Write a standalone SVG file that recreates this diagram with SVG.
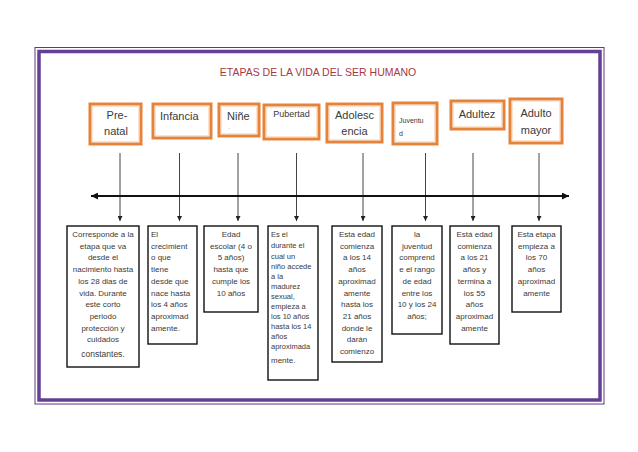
<svg xmlns="http://www.w3.org/2000/svg" width="638" height="452" viewBox="0 0 638 452">
<defs>
<style>
.t{font-family:"Liberation Sans",Arial,sans-serif;fill:#3a3a3a}
.top{font-size:11px;fill:#3a3a3a}
.bt{font-size:8px}
.bt4{font-size:7.5px}
.c{text-anchor:middle}
.ob{fill:#fff;stroke:#e5833a;stroke-width:3}
.obi{fill:none;stroke:#fbe3cf;stroke-width:1}
.bb{fill:#fff;stroke:#111;stroke-width:1.4}
.cn{stroke:#444;stroke-width:1;fill:none}
</style>
<marker id="ah" viewBox="0 0 6 6" refX="6" refY="3" markerWidth="5" markerHeight="5" orient="auto" markerUnits="userSpaceOnUse">
<path d="M0,0 L6,3 L0,6 z" fill="#222"/>
</marker>
<marker id="ah2" viewBox="0 0 8 8" refX="8" refY="4" markerWidth="7" markerHeight="7" orient="auto-start-reverse" markerUnits="userSpaceOnUse">
<path d="M0,0 L8,4 L0,8 z" fill="#111"/>
</marker>
</defs>
<rect width="638" height="452" fill="#fff"/>
<g id="frame">
<rect x="35" y="47.5" width="569" height="356.5" fill="none" stroke="#5a3c82" stroke-width="1"/>
<rect x="39" y="51.5" width="561" height="348.5" fill="none" stroke="#653f95" stroke-width="3.5"/>
</g>
<text id="title" class="t" x="318" y="76" text-anchor="middle" font-size="10.5" style="fill:#a8383f">ETAPAS DE LA VIDA DEL SER HUMANO</text>

<g id="connectors">
<line class="cn" x1="120" y1="153" x2="120" y2="221" marker-end="url(#ah)"/>
<line class="cn" x1="179.5" y1="153" x2="179.5" y2="221" marker-end="url(#ah)"/>
<line class="cn" x1="238" y1="153" x2="238" y2="221" marker-end="url(#ah)"/>
<line class="cn" x1="296.5" y1="153" x2="296.5" y2="221" marker-end="url(#ah)"/>
<line class="cn" x1="363" y1="153" x2="363" y2="221" marker-end="url(#ah)"/>
<line class="cn" x1="425.5" y1="153" x2="425.5" y2="221" marker-end="url(#ah)"/>
<line class="cn" x1="473" y1="153" x2="473" y2="221" marker-end="url(#ah)"/>
<line class="cn" x1="539" y1="153" x2="539" y2="221" marker-end="url(#ah)"/>
<line x1="91" y1="196" x2="569" y2="196" stroke="#111" stroke-width="2" marker-start="url(#ah2)" marker-end="url(#ah2)"/>
</g>

<g id="n-prenatal"><rect class="ob" x="90" y="104" width="51" height="40"/><rect class="obi" x="92.5" y="106.5" width="46" height="35"/>
<text class="t top c" x="117" y="119">Pre-</text><text class="t top c" x="116" y="135">natal</text></g>
<g id="n-infancia"><rect class="ob" x="153" y="104" width="58" height="34"/><rect class="obi" x="155.5" y="106.5" width="53" height="29"/>
<text class="t top" x="160" y="120">Infancia</text></g>
<g id="n-nine"><rect class="ob" x="219" y="104" width="40" height="32"/><rect class="obi" x="221.5" y="106.5" width="35" height="27"/>
<text class="t top" x="227" y="120">Niñe</text><text class="t" x="228.5" y="130" font-size="5" style="fill:#aaa">-</text></g>
<g id="n-pubertad"><rect class="ob" x="264" y="105" width="55" height="34"/><rect class="obi" x="266.5" y="107.5" width="50" height="29"/>
<text class="t c" x="291.5" y="117" font-size="9">Pubertad</text></g>
<g id="n-adolescencia"><rect class="ob" x="327" y="104" width="55" height="38"/><rect class="obi" x="329.5" y="106.5" width="50" height="33"/>
<text class="t top c" x="354.5" y="119">Adolesc</text><text class="t top c" x="354.5" y="135">encia</text></g>
<g id="n-juventud"><rect class="ob" x="393" y="103" width="44" height="41"/><rect class="obi" x="395.5" y="105.5" width="39" height="36"/>
<text class="t" x="399" y="123" font-size="7">Juventu</text><text class="t" x="399" y="136" font-size="7">d</text></g>
<g id="n-adultez"><rect class="ob" x="451" y="101" width="53" height="28"/><rect class="obi" x="453.5" y="103.5" width="48" height="23"/>
<text class="t top c" x="477" y="118">Adultez</text></g>
<g id="n-adultomayor"><rect class="ob" x="510" y="99" width="52" height="44"/><rect class="obi" x="512.5" y="101.5" width="47" height="39"/>
<text class="t top c" x="536" y="117">Adulto</text><text class="t top c" x="536" y="134">mayor</text></g>

<g id="d-prenatal"><rect class="bb" x="67" y="226" width="72" height="141"/>
<text class="t bt c"><tspan x="103" y="237">Corresponde a la</tspan><tspan x="103" y="248.7">etapa que va</tspan><tspan x="103" y="260.4">desde el</tspan><tspan x="103" y="272.1">nacimiento hasta</tspan><tspan x="103" y="283.8">los 28 dias de</tspan><tspan x="103" y="295.5">vida. Durante</tspan><tspan x="103" y="307.2">este corto</tspan><tspan x="103" y="318.9">periodo</tspan><tspan x="103" y="330.6">protección y</tspan><tspan x="103" y="342.3">cuidados</tspan><tspan x="103" y="357" font-size="8.5">constantes.</tspan></text></g>
<g id="d-infancia"><rect class="bb" x="148" y="226" width="49" height="118"/>
<text class="t bt"><tspan x="151" y="237">El</tspan><tspan x="151" y="248.7">crecimient</tspan><tspan x="151" y="260.4">o que</tspan><tspan x="151" y="272.1">tiene</tspan><tspan x="151" y="283.8">desde que</tspan><tspan x="151" y="295.5">nace hasta</tspan><tspan x="151" y="307.2">los 4 años</tspan><tspan x="151" y="318.9">aproximad</tspan><tspan x="151" y="330.6">amente.</tspan></text></g>
<g id="d-nine"><rect class="bb" x="204" y="226" width="54" height="86"/>
<text class="t bt c"><tspan x="231" y="237">Edad</tspan><tspan x="231" y="248.7">escolar (4 o</tspan><tspan x="231" y="260.4">5 años)</tspan><tspan x="231" y="272.1">hasta que</tspan><tspan x="231" y="283.8">cumple los</tspan><tspan x="231" y="295.5">10 años</tspan></text></g>
<g id="d-pubertad"><rect class="bb" x="268" y="226" width="50" height="154"/>
<text class="t bt4"><tspan x="271" y="237">Es el</tspan><tspan x="271" y="248">durante el</tspan><tspan x="271" y="259">cual un</tspan><tspan x="271" y="269">niño accede</tspan><tspan x="271" y="279">a la</tspan><tspan x="271" y="289">madurez</tspan><tspan x="271" y="299">sexual,</tspan><tspan x="271" y="309">empieza a</tspan><tspan x="271" y="319">los 10 años</tspan><tspan x="271" y="329">hasta los 14</tspan><tspan x="271" y="339">años</tspan><tspan x="271" y="349">aproximada</tspan><tspan x="271" y="363" font-size="8">mente.</tspan></text></g>
<g id="d-adolescencia"><rect class="bb" x="332" y="226" width="50" height="136"/>
<text class="t bt c"><tspan x="357" y="237">Esta edad</tspan><tspan x="357" y="248.7">comienza</tspan><tspan x="357" y="260.4">a los 14</tspan><tspan x="357" y="272.1">años</tspan><tspan x="357" y="283.8">aproximad</tspan><tspan x="357" y="295.5">amente</tspan><tspan x="357" y="307.2">hasta los</tspan><tspan x="357" y="318.9">21 años</tspan><tspan x="357" y="330.6">donde le</tspan><tspan x="357" y="342.3">darán</tspan><tspan x="357" y="354">comienzo</tspan></text></g>
<g id="d-juventud"><rect class="bb" x="392" y="226" width="50" height="108"/>
<text class="t bt c"><tspan x="417" y="237">la</tspan><tspan x="417" y="248.7">juventud</tspan><tspan x="417" y="260.4">comprend</tspan><tspan x="417" y="272.1">e el rango</tspan><tspan x="417" y="283.8">de edad</tspan><tspan x="417" y="295.5">entre los</tspan><tspan x="417" y="307.2">10 y los 24</tspan><tspan x="417" y="318.9">años;</tspan></text></g>
<g id="d-adultez"><rect class="bb" x="450" y="226" width="49" height="118"/>
<text class="t bt c"><tspan x="474.5" y="237">Está edad</tspan><tspan x="474.5" y="248.7">comienza</tspan><tspan x="474.5" y="260.4">a los 21</tspan><tspan x="474.5" y="272.1">años y</tspan><tspan x="474.5" y="283.8">termina a</tspan><tspan x="474.5" y="295.5">los 55</tspan><tspan x="474.5" y="307.2">años</tspan><tspan x="474.5" y="318.9">aproximad</tspan><tspan x="474.5" y="330.6">amente</tspan></text></g>
<g id="d-adultomayor"><rect class="bb" x="512" y="226" width="49" height="86"/>
<text class="t bt c"><tspan x="536.5" y="237">Esta etapa</tspan><tspan x="536.5" y="248.7">empieza a</tspan><tspan x="536.5" y="260.4">los 70</tspan><tspan x="536.5" y="272.1">años</tspan><tspan x="536.5" y="283.8">aproximad</tspan><tspan x="536.5" y="295.5">amente</tspan></text></g>
</svg>
